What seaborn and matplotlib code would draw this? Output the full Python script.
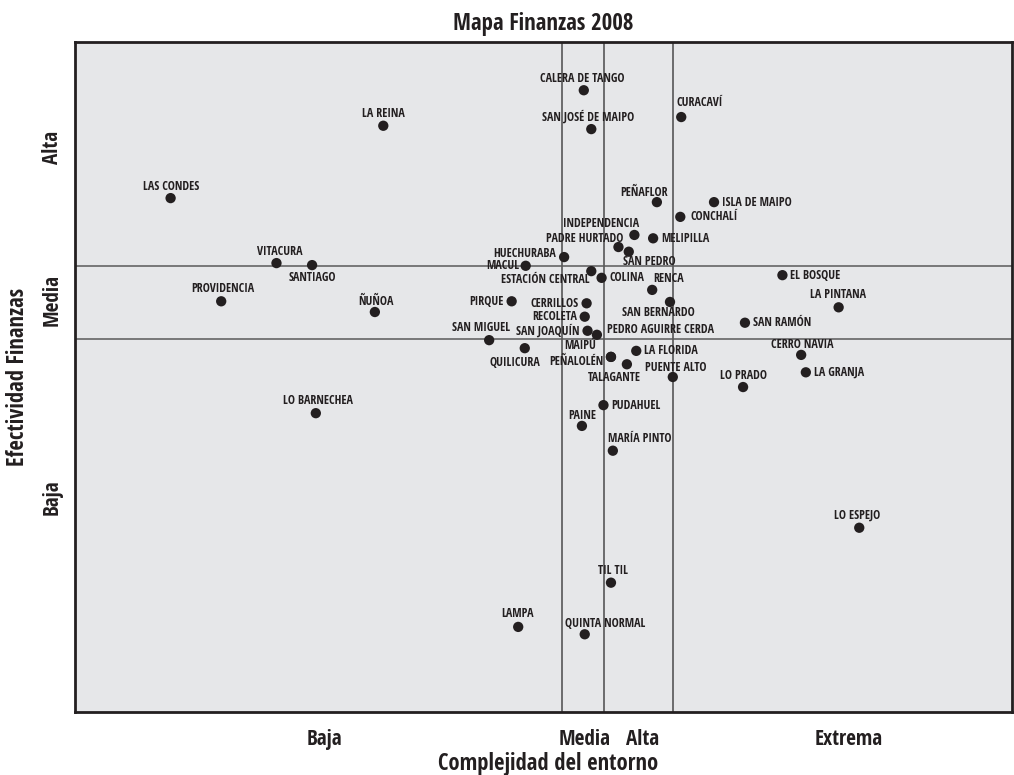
import matplotlib
matplotlib.use('Agg')
import matplotlib.pyplot as plt
from matplotlib import font_manager
from matplotlib.font_manager import FontProperties
import seaborn as sns
import pandas as pd

# comunas and their scores (x: complejidad del entorno, y: efectividad finanzas), 0-100 scale
comunas = [
    'CALERA DE TANGO', 'SAN JOSÉ DE MAIPO', 'CURACAVÍ', 'LA REINA', 'LAS CONDES',
    'PEÑAFLOR', 'ISLA DE MAIPO', 'CONCHALÍ', 'INDEPENDENCIA', 'MELIPILLA',
    'PADRE HURTADO', 'SAN PEDRO', 'HUECHURABA', 'MACUL', 'ESTACIÓN CENTRAL',
    'COLINA', 'RENCA', 'SAN BERNARDO', 'VITACURA', 'SANTIAGO',
    'PROVIDENCIA', 'ÑUÑOA', 'EL BOSQUE', 'LA PINTANA', 'PIRQUE',
    'CERRILLOS', 'RECOLETA', 'SAN JOAQUÍN', 'PEDRO AGUIRRE CERDA', 'SAN RAMÓN',
    'SAN MIGUEL', 'QUILICURA', 'MAIPÚ', 'PEÑALOLÉN', 'LA FLORIDA',
    'TALAGANTE', 'PUENTE ALTO', 'CERRO NAVIA', 'LA GRANJA', 'LO PRADO',
    'LO BARNECHEA', 'PUDAHUEL', 'PAINE', 'MARÍA PINTO', 'LO ESPEJO',
    'TIL TIL', 'LAMPA', 'QUINTA NORMAL',
]
complejidad = [
    54.3, 55.1, 64.7, 32.9, 10.2,
    62.1, 68.2, 64.6, 59.7, 61.7,
    58.0, 59.1, 52.2, 48.1, 55.1,
    56.2, 61.6, 63.5, 21.5, 25.3,
    15.6, 32.0, 75.5, 81.5, 46.6,
    54.6, 54.4, 54.7, 55.7, 71.5,
    44.2, 48.0, 57.2, 57.2, 59.9,
    58.9, 63.8, 77.5, 78.0, 71.3,
    25.7, 56.4, 54.1, 57.4, 83.7,
    57.2, 47.3, 54.4,
]
efectividad = [
    92.8, 87.0, 88.8, 87.5, 76.7,
    76.1, 76.1, 73.9, 71.2, 70.7,
    69.4, 68.7, 67.9, 66.6, 65.8,
    64.8, 63.0, 61.2, 67.0, 66.7,
    61.3, 59.7, 65.2, 60.4, 61.3,
    61.0, 59.0, 56.9, 56.3, 58.1,
    55.5, 54.3, 53.0, 53.0, 53.9,
    51.9, 50.0, 53.3, 50.7, 48.5,
    44.6, 45.8, 42.7, 39.0, 27.5,
    19.3, 12.7, 11.6,
]

# quadrant limits
x_cortes = [52.0, 56.5, 63.8]
y_cortes = [55.7, 66.6]

x_tick_pos = [26.6, 54.4, 60.6, 82.6]
x_tick_labels = ['Baja', 'Media', 'Alta', 'Extrema']
y_tick_pos = [84.2, 61.5, 32.1]
y_tick_labels = ['Alta', 'Media', 'Baja']

# label placement (dx, dy in pixels, dy positive = up, horizontal alignment)
RIGHT = (8, 0, 'left')
LEFT = (-8, 0, 'right')
placement = {
    'CALERA DE TANGO': (-2, 12, 'center'), 'SAN JOSÉ DE MAIPO': (-3, 12, 'center'),
    'CURACAVÍ': (18, 15, 'center'), 'LA REINA': (0, 12, 'center'),
    'LAS CONDES': (1, 12, 'center'), 'PEÑAFLOR': (-13, 10, 'center'),
    'ISLA DE MAIPO': RIGHT, 'CONCHALÍ': (10, 0, 'left'),
    'INDEPENDENCIA': (-33, 11, 'center'), 'MELIPILLA': RIGHT,
    'PADRE HURTADO': (-34, 9, 'center'), 'SAN PEDRO': (21, -10, 'center'),
    'HUECHURABA': (-8, 4, 'right'), 'MACUL': (-6, 0, 'right'),
    'ESTACIÓN CENTRAL': (-2, -8, 'right'), 'COLINA': RIGHT,
    'RENCA': (16, 11, 'center'), 'SAN BERNARDO': (-12, -11, 'center'),
    'VITACURA': (3, 12, 'center'), 'SANTIAGO': (0, -12, 'center'),
    'PROVIDENCIA': (2, 13, 'center'), 'ÑUÑOA': (1, 11, 'center'),
    'EL BOSQUE': RIGHT, 'LA PINTANA': (-1, 13, 'center'),
    'PIRQUE': LEFT, 'CERRILLOS': LEFT, 'RECOLETA': LEFT, 'SAN JOAQUÍN': LEFT,
    'PEDRO AGUIRRE CERDA': (10, 5, 'left'), 'SAN RAMÓN': RIGHT,
    'SAN MIGUEL': (-8, 13, 'center'), 'QUILICURA': (-10, -14, 'center'),
    'MAIPÚ': (-31, 11, 'center'), 'PEÑALOLÉN': (-7, -5, 'right'),
    'LA FLORIDA': RIGHT, 'TALAGANTE': (-13, -13, 'center'),
    'PUENTE ALTO': (3, 9, 'center'), 'CERRO NAVIA': (1, 10, 'center'),
    'LA GRANJA': RIGHT, 'LO PRADO': (0, 12, 'center'),
    'LO BARNECHEA': (2, 13, 'center'), 'PUDAHUEL': RIGHT,
    'PAINE': (0, 10, 'center'), 'MARÍA PINTO': (27, 12, 'center'),
    'LO ESPEJO': (-2, 13, 'center'), 'TIL TIL': (2, 12, 'center'),
    'LAMPA': (-1, 13, 'center'), 'QUINTA NORMAL': (20, 11, 'center'),
}

dark = '#231f20'
fig = plt.figure(figsize=(10.14, 7.75), dpi=100)
renderer = fig.canvas.get_renderer()


def measure(text, family, size=20.0):
    prop = FontProperties(family=family, weight='bold', size=size)
    w, h, d = renderer.get_text_width_height_descent(text, prop, ismath=False)
    return w, h - d


def pick_font(sample='LA REINA', ratio=43 / 9):
    """Bold narrow face whose width/cap-height comes closest to the reference."""
    names = {f.name for f in font_manager.fontManager.ttflist
             if f.weight in (700, 'bold') and
             ('condensed' in f.name.lower() or 'narrow' in f.name.lower())}
    names |= {'DejaVu Sans'}
    best, best_err = 'DejaVu Sans', None
    for name in sorted(names):
        w, cap = measure(sample, name)
        err = abs(w / cap - ratio)
        if best_err is None or err < best_err:
            best, best_err = name, err
    return best


font_name = pick_font()


def fit_size(text, width_px, cap_px):
    # mostly the reference width, a little of its cap height
    w, cap = measure(text, font_name, 20.0)
    return 20.0 * (width_px / w) ** 0.7 * (cap_px / cap) ** 0.3


df = pd.DataFrame({'comuna': comunas, 'complejidad': complejidad, 'efectividad': efectividad})

sns.set_style('white')
plt.rcParams['font.family'] = [font_name, 'DejaVu Sans']
plt.rcParams['font.weight'] = 'bold'

ax = fig.add_axes([0.074, 0.0813, 0.924, 0.8645])
ax.set_facecolor('#e6e7e9')

label_fs = fit_size('LA REINA', 43, 9)
tick_fs = fit_size('Media', 54, 15)
axis_fs = fit_size('Complejidad del entorno', 229, 16)
title_fs = fit_size('Mapa Finanzas 2008', 191, 16)

for xc in x_cortes:
    ax.axvline(xc, color='#4a4a4a', lw=1.1, zorder=1)
for yc in y_cortes:
    ax.axhline(yc, color='#5a5a5a', lw=1.1, zorder=1)

sns.scatterplot(data=df, x='complejidad', y='efectividad', ax=ax, s=55,
                color=dark, edgecolor='none', zorder=3)

for _, row in df.iterrows():
    dx, dy, ha = placement[row['comuna']]
    ax.annotate(row['comuna'], (row['complejidad'], row['efectividad']),
                xytext=(dx, dy), textcoords='offset pixels', ha=ha, va='center',
                fontsize=label_fs, fontweight='bold', color=dark, zorder=4)

ax.set_xlim(0, 100)
ax.set_ylim(0, 100)
ax.set_xticks(x_tick_pos)
ax.set_xticklabels(x_tick_labels, fontsize=tick_fs, fontweight='bold', color=dark)
ax.set_yticks(y_tick_pos)
ax.set_yticklabels(y_tick_labels, fontsize=tick_fs, fontweight='bold', color=dark,
                   rotation=90, va='center')
ax.tick_params(axis='x', length=0, pad=12)
ax.tick_params(axis='y', length=0, pad=9)

for sp in ax.spines.values():
    sp.set_color(dark)
    sp.set_linewidth(2)

ax.set_xlabel('Complejidad del entorno', fontsize=axis_fs, fontweight='bold', color=dark)
ax.xaxis.set_label_coords(0.505, -0.077)
ax.xaxis.label.set_verticalalignment('center')
ax.set_ylabel('Efectividad Finanzas', fontsize=axis_fs, fontweight='bold', color=dark)
ax.yaxis.set_label_coords(-0.061, 0.5)
ax.yaxis.label.set_verticalalignment('center')
ax.set_title('Mapa Finanzas 2008', fontsize=title_fs, fontweight='bold', color=dark, pad=9)

fig.savefig('out.png', dpi=100)
